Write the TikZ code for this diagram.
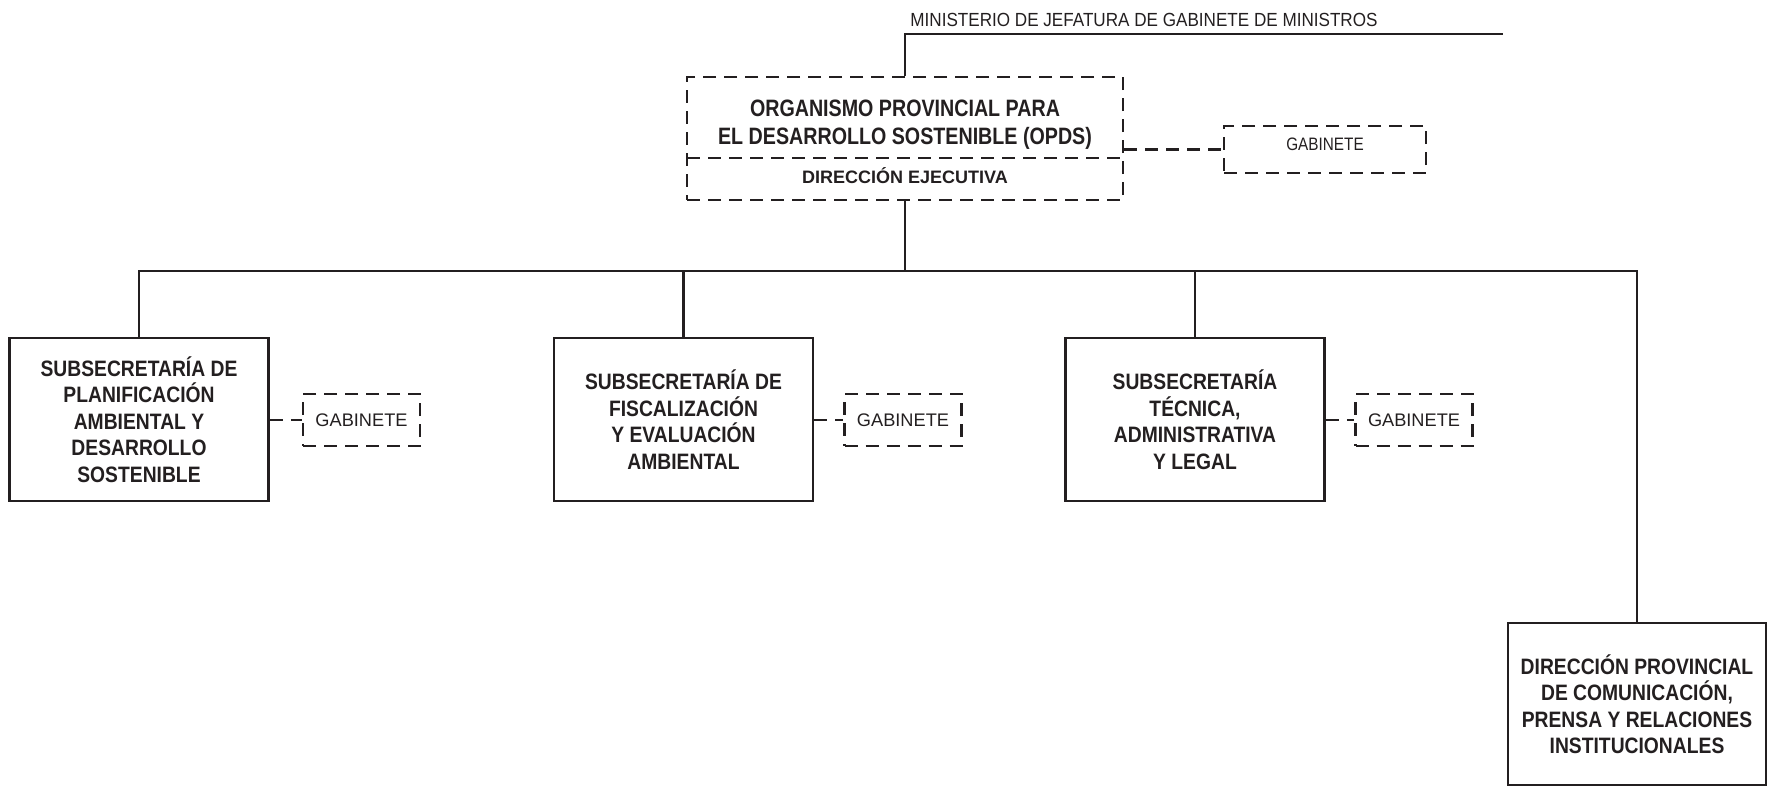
\documentclass[tikz,border=0pt]{standalone}
\usepackage{fontspec}
\setmainfont{Liberation Sans}
\newfontfamily\boxfont{Liberation Sans}[FakeStretch=0.865]
\newfontfamily\opdsfont{Liberation Sans}[FakeStretch=0.83]
\newfontfamily\gabfont{Liberation Sans}[FakeStretch=0.85]
\newfontfamily\titlefont{Liberation Sans}[FakeStretch=0.90]
\definecolor{ink}{HTML}{231F20}
\begin{document}
\begin{tikzpicture}[x=1pt,y=-1pt,line width=2.8pt,draw=ink,text=ink,
  dsh/.style={dash pattern=on 13pt off 8pt},
  sub/.style={draw,line width=2.8pt,minimum width=259pt,minimum height=163pt,inner sep=0pt,align=center,
    font=\boxfont\bfseries\fontsize{22.3}{26.5}\selectfont},
  gabs/.style={draw,dsh,line width=2.8pt,minimum width=117pt,minimum height=52pt,inner sep=0pt,
    font=\fontsize{18.2}{20}\selectfont},
  framebox/.style={draw,dsh,line width=2.8pt,inner sep=0pt}
]
\useasboundingbox (0,0) rectangle (1767,787);

% top organism
\node[framebox,minimum width=436pt,minimum height=123pt] (opds) at (905,138.5) {};
\node[inner sep=0pt,align=center,font=\opdsfont\bfseries\fontsize{23.7}{28}\selectfont] (opdst) at (905,125)
  {ORGANISMO PROVINCIAL PARA\\EL DESARROLLO SOSTENIBLE (OPDS)};
\node[inner sep=0pt,text height=12.9pt,text depth=0pt,font=\bfseries\fontsize{18}{20}\selectfont] (dir) at (905,177.5)
  {DIRECCIÓN EJECUTIVA};
\coordinate (divL) at (687,158);
\coordinate (divR) at (1123,158);
\draw[dsh] (divL) -- (divR);

% ministry line
\node[anchor=base west,inner sep=0pt,font=\titlefont\fontsize{19}{21}\selectfont] (min) at (909,27)
  {MINISTERIO DE JEFATURA DE GABINETE DE MINISTROS};
\coordinate (minend) at (1503,34);
\draw (opds.north) |- (minend);

% gabinete of OPDS
\node[framebox,minimum width=202pt,minimum height=47pt,font=\gabfont\fontsize{18}{20}\selectfont] (g0) at (1325,149.5)
  {\raisebox{11pt}{GABINETE}};
\draw[dsh] (g0.west -| opds.east) -- (g0.west);

% subordinate units
\node[sub] (s1) at (139,419.5) {SUBSECRETARÍA DE\\PLANIFICACIÓN\\AMBIENTAL Y\\DESARROLLO\\SOSTENIBLE};
\node[sub] (s2) at (683.5,419.5) {SUBSECRETARÍA DE\\FISCALIZACIÓN\\Y EVALUACIÓN\\AMBIENTAL};
\node[sub] (s3) at (1195,419.5) {SUBSECRETARÍA\\TÉCNICA,\\ADMINISTRATIVA\\Y LEGAL};
\node[sub,minimum width=258pt,minimum height=162pt] (dp) at (1637,704)
  {DIRECCIÓN PROVINCIAL\\DE COMUNICACIÓN,\\PRENSA Y RELACIONES\\INSTITUCIONALES};

% bus
\coordinate (busL) at (139,271);
\draw (s1.north) |- (dp.north |- busL) -- (dp.north);
\draw (opds.south) -- (opds.south |- busL);
\draw (s2.north) -- (s2.north |- busL);
\draw (s3.north) -- (s3.north |- busL);

% gabinetes of subsecretarias
\node[gabs] (g1) at (361.5,420) {GABINETE};
\node[gabs] (g2) at (903,420) {GABINETE};
\node[gabs] (g3) at (1414,420) {GABINETE};
\draw[dsh] (g1.west -| s1.east) -- (g1.west);
\draw[dsh] (g2.west -| s2.east) -- (g2.west);
\draw[dsh] (g3.west -| s3.east) -- (g3.west);
\end{tikzpicture}
\end{document}
